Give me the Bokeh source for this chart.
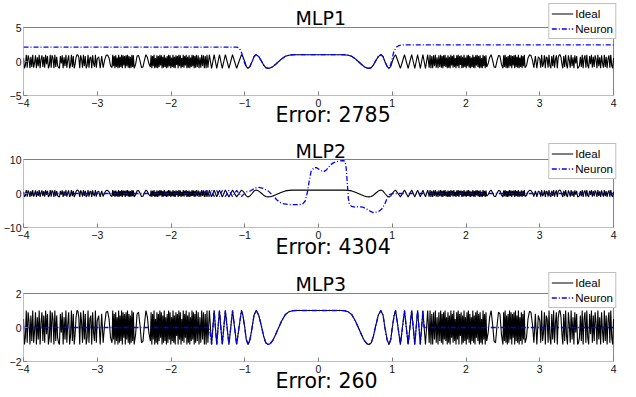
import numpy as np
from bokeh.plotting import figure
from bokeh.layouts import column
from bokeh.models import Range1d, FixedTicker, Legend, LegendItem, Label, Title
from bokeh.embed import file_html
from bokeh.resources import INLINE

# ---------------- data ----------------
x_lim = (-4, 4)
x_ticks = [-4, -3, -2, -1, 0, 1, 2, 3, 4]

# smooth central part of the "Ideal" curve, right half (the curve is symmetric)
core_x = [0.00, 0.10, 0.20, 0.30, 0.35, 0.40, 0.45, 0.50, 0.54, 0.58,
          0.62, 0.655, 0.685, 0.715, 0.745, 0.77, 0.81, 0.845, 0.875, 0.90,
          0.93, 0.955, 0.98, 1.00, 1.025, 1.045, 1.078, 1.11, 1.138, 1.166,
          1.19, 1.215, 1.239, 1.263, 1.284, 1.305, 1.324, 1.343, 1.362, 1.38,
          1.398, 1.415, 1.432, 1.45, 1.465, 1.48]
core_y = [1.00, 1.00, 1.00, 1.00, 0.99, 0.93, 0.76, 0.38, 0.00, -0.40,
          -0.76, -0.95, -1.00, -0.90, -0.50, 0.00, 0.72, 1.00, 0.72, 0.00,
          -0.72, -1.00, -0.70, 0.00, 0.70, 1.00, 0.00, -1.00, 0.00, 1.00,
          0.00, -1.00, 0.00, 1.00, 0.00, -1.00, 0.00, 1.00, 0.00, -1.00,
          0.00, 1.00, 0.00, -1.00, 0.00, 1.00]

# densely oscillating (aliased) part, as evenly spaced samples per stretch: (start, stop, values)
seg1 = (1.50, 1.644, [-0.9, 1.0, -1.0, 0.8, -1.0, 0.9, -0.7, 1.0, -0.9, 0.6, -1.0, 0.9, -0.8])
seg2 = (1.656, 2.28, [1.0, -0.9, 0.8, -1.0, 0.9, -0.7, 1.0, -0.8, 0.6, -1.0,
                      0.9, -0.9, 0.7, -1.0, 1.0, -0.6, 0.8, -0.9, 1.0, -0.8,
                      0.5, -1.0, 0.9, -0.7, 1.0, -1.0, 0.8, -0.5, 0.9, -1.0,
                      0.7, -0.9, 1.0, -0.8, 0.6, -1.0, 0.9, -0.7, 1.0, -0.9,
                      0.8, -1.0, 0.6, -0.8, 1.0, -0.9, 0.7, -1.0, 0.9, -0.6,
                      1.0, -0.8, 0.8, -1.0, 0.9, -0.9, 0.5, -1.0, 1.0, -0.7,
                      0.8, -1.0, 0.9, -0.8])
seg3 = (2.30, 2.48, [-0.3, 0.6, 1.0, 0.2, -0.8, -0.9, 0.1, 0.9, 0.8, -0.4])
seg4 = (2.50, 2.80, [-1.0, 0.9, -0.8, 1.0, -0.9, 0.7, -1.0, 0.8, -0.9, 1.0,
                     -0.7, 0.9, -1.0, 0.8, -0.6, 0.9, -1.0, 1.0, -0.8, 0.7,
                     -0.9, 1.0, -1.0, 0.6, -0.8, 0.9, -1.0, 0.8, -0.7, 1.0,
                     -0.9])
seg5 = (2.82, 2.98, [-0.6, 0.5, 0.95, 0.9, 0.2, -0.9, 0.8, -1.0, 0.7])
seg6 = (3.00, 4.00, [0.4, -0.9, 1.0, -0.8, -0.3, 0.9, -1.0, 0.7, 0.5, -0.9,
                     1.0, -0.6, -1.0, 0.8, -0.7, 1.0, -0.9, 0.3, 0.9, -1.0,
                     0.6, 0.95, 1.0, 0.6, -0.4, -1.0, 0.8, -0.8, 1.0, -0.5,
                     -1.0, 0.9, 0.2, -0.9, 1.0, -0.7, 0.6, -1.0, 0.9, -0.3,
                     0.8, -1.0, -0.9, -0.6, 0.7, -0.8, 1.0, -1.0, 0.5, 0.9,
                     -0.9, 1.0, -0.6, -1.0, 0.8, -0.4, 1.0, -0.9, 0.7, -0.8,
                     0.9, 0.3, -1.0, 1.0, -0.7, 0.6, -1.0, 0.9, -0.2, -0.9,
                     1.0, -0.8, 0.7, -1.0, 0.4, 0.9, -0.9, 1.0, -0.6, -1.0,
                     0.5])
dense_segments = [seg1, seg2, seg3, seg4, seg5, seg6]

# MLP1 neuron: flat plateaus outside, follows the ideal curve for |x| <= 0.955
m1_left_x = [-4.00, -1.10, -1.07, -1.04, -1.01, -0.98]
m1_left_y = [2.10, 2.10, 1.90, 1.20, 0.00, -0.80]
m1_right_x = [0.98, 1.00, 1.02, 1.05, 1.09, 1.15, 4.00]
m1_right_y = [-0.40, 0.50, 1.40, 2.05, 2.35, 2.45, 2.45]
m1_core_lim = 0.955

# MLP2 neuron
m2_x = [-4.00, -1.55, -1.52, -1.48, -1.45, -1.415, -1.38, -1.343, -1.305, -1.263,
        -1.215, -1.166, -1.11, -1.045, -0.98, -0.92, -0.86, -0.81, -0.75, -0.68,
        -0.62, -0.56, -0.50, -0.42, -0.32, -0.22, -0.18, -0.15, -0.125, -0.10,
        -0.06, -0.03, 0.00, 0.03, 0.07, 0.11, 0.16, 0.20, 0.25, 0.30,
        0.34, 0.36, 0.375, 0.39, 0.405, 0.42, 0.45, 0.50, 0.55, 0.60,
        0.65, 0.70, 0.74, 0.78, 0.82, 0.86, 0.90, 0.93, 0.96, 1.00, 4.00]
m2_y = [0.0, 0.0, 0.8, -0.9, 0.9, -0.9, 0.9, -0.9, 0.9, -0.9,
        0.9, -0.9, 0.9, -0.9, 0.5, 0.8, 1.6, 1.8, 1.5, 0.7,
        -0.6, -2.0, -2.9, -3.2, -3.3, -3.2, -2.2, 0.5, 3.8, 6.6,
        7.6, 7.6, 7.2, 6.8, 6.4, 7.0, 8.4, 9.0, 9.4, 9.6,
        9.7, 9.4, 7.5, 3.0, -1.5, -3.2, -3.8, -4.0, -3.9, -4.0,
        -4.5, -5.2, -5.6, -5.5, -5.2, -4.5, -3.0, -1.4, -0.3, 0.0, 0.0]

# MLP3 neuron: zero outside, follows the ideal curve for |x| <= ~1.45
m3_left_x = [-4.00, -1.48]
m3_left_y = [0.0, 0.0]
m3_right_x = [1.432, 1.45, 4.00]
m3_right_y = [0.0, 0.0, 0.0]
m3_core_lim_left = 1.45
m3_core_lim_right = 1.415

titles = ["MLP1", "MLP2", "MLP3"]
errors = ["Error: 2785", "Error: 4304", "Error: 260"]
y_limits = [(-5, 5), (-10, 10), (-2, 2)]
y_ticks = [[-5, 0, 5], [-10, 0, 10], [-2, 0, 2]]

# ---------------- assemble curves ----------------
dense_x, dense_y = [], []
for start, stop, vals in dense_segments:
    dense_x += list(np.linspace(start, stop, len(vals)))
    dense_y += vals
right_x = core_x + dense_x
right_y = core_y + dense_y
ideal_x = [-v for v in reversed(right_x[1:])] + right_x
ideal_y = list(reversed(right_y[1:])) + right_y

core_full_x = [-v for v in reversed(core_x[1:])] + core_x
core_full_y = list(reversed(core_y[1:])) + core_y


def core_between(lo, hi):
    xs, ys = [], []
    for a, b in zip(core_full_x, core_full_y):
        if lo <= a <= hi:
            xs.append(a)
            ys.append(b)
    return xs, ys


cx, cy = core_between(-m1_core_lim, m1_core_lim)
m1_x = m1_left_x + cx + m1_right_x
m1_y = m1_left_y + cy + m1_right_y

cx, cy = core_between(-m3_core_lim_left, m3_core_lim_right)
m3_x = m3_left_x + cx + m3_right_x
m3_y = m3_left_y + cy + m3_right_y

neurons = [(m1_x, m1_y), (m2_x, m2_y), (m3_x, m3_y)]

# ---------------- layout ----------------
BOX_H = 68              # height of each axes box, px
BOX_W = 595             # width of each axes box, px
FRAME_W = 601           # frame = box + a little room on the right for the legend overhang
LEFT = 18
top_border = [0, 10, 7]
ext_above = [27, 19, 24]  # px of frame above each axes box (room for title + legend)
bottoms = [35, 35, 34]
title_mid = [10, 9, 10]   # vertical middle of the title, px above the box
ERR_OFFSET = 252          # px from the box's left edge to the start of the "Error" text
GRAY = "#808080"

figs = []
for i in range(3):
    ylo, yhi = y_limits[i]
    ppu_y = BOX_H / (yhi - ylo)
    ppu_x = BOX_W / (x_lim[1] - x_lim[0])
    frame_h = BOX_H + ext_above[i]
    h = top_border[i] + frame_h + bottoms[i]
    p = figure(width=LEFT + FRAME_W + 1, height=h,
               x_range=Range1d(x_lim[0], x_lim[1] + (FRAME_W - BOX_W) / ppu_x),
               y_range=Range1d(ylo, yhi + ext_above[i] / ppu_y),
               output_backend="svg", toolbar_location=None,
               min_border_left=LEFT, min_border_right=1,
               min_border_top=top_border[i], min_border_bottom=bottoms[i],
               background_fill_color="white", border_fill_color="white",
               outline_line_color=None)
    p.grid.visible = False

    # axes box
    p.quad(left=x_lim[0], right=x_lim[1], bottom=ylo, top=yhi,
           fill_color=None, line_color=GRAY, line_width=1)

    r1 = p.line(ideal_x, ideal_y, line_color="black", line_width=1.1)
    nx, ny = neurons[i]
    r2 = p.line(nx, ny, line_color="#0000ff", line_width=1.3, line_dash="5 2 1 2")

    for ax, ticks in ((p.xaxis[0], x_ticks), (p.yaxis[0], y_ticks[i])):
        ax.ticker = FixedTicker(ticks=ticks)
        ax.axis_line_color = None
        ax.major_tick_line_color = GRAY
        ax.major_tick_in = 4
        ax.major_tick_out = 0
        ax.minor_tick_line_color = None
        ax.major_label_text_font = "Liberation Sans"
        ax.major_label_text_font_size = "10.5px"
        ax.major_label_text_color = "#111111"
    p.xaxis[0].major_label_standoff = 3
    p.yaxis[0].major_label_standoff = 2

    err = Title(text=errors[i], align="left", offset=ERR_OFFSET, vertical_align="top",
                standoff=-14, text_font="DejaVu Sans", text_font_size="20.5px",
                text_font_style="normal", text_color="black")
    p.add_layout(err, "below")

    p.add_layout(Label(x=0.03, y=yhi + title_mid[i] / ppu_y, text=titles[i], text_align="center",
                       text_baseline="middle", text_font="DejaVu Sans",
                       text_font_size="19px", text_color="black"))

    leg = Legend(items=[LegendItem(label="Ideal", renderers=[r1]),
                        LegendItem(label="Neuron", renderers=[r2])],
                 location="top_right", orientation="vertical",
                 label_text_font="Liberation Sans", label_text_font_size="11.5px",
                 label_text_color="black",
                 glyph_width=22, glyph_height=15, label_height=15, label_standoff=2,
                 spacing=0, padding=2, margin=3,
                 border_line_color=GRAY, border_line_width=1,
                 background_fill_color="white", background_fill_alpha=1.0)
    p.add_layout(leg)
    figs.append(p)

layout = column(*figs, spacing=0)
open("out.html", "w").write(file_html(layout, INLINE))
